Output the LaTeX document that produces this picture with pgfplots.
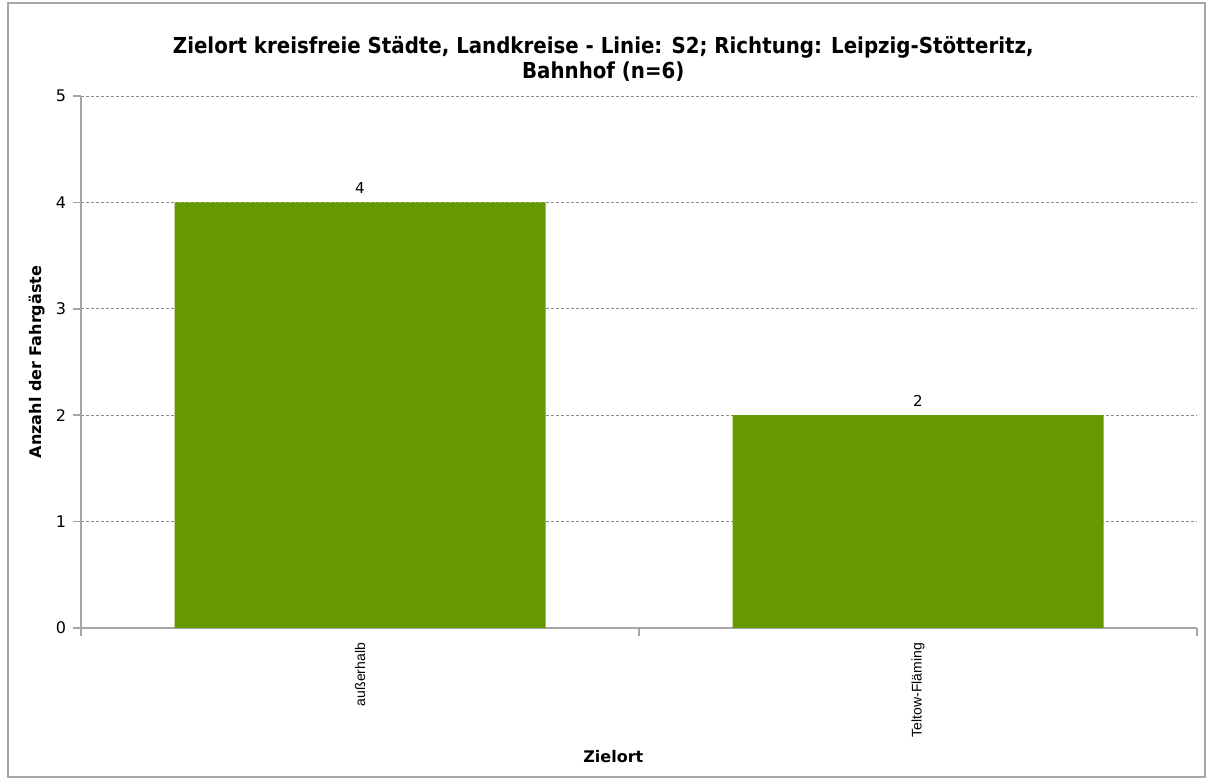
\documentclass[border=0pt]{standalone}
\usepackage{pgfplots}
\pgfplotsset{compat=1.18}
\usepackage{fontspec}
\setmainfont{DejaVu Sans}
\newfontfamily\condfont{DejaVu Sans Condensed}
\newfontfamily\arialfont{Liberation Sans}
\definecolor{bargreen}{HTML}{669900}
\definecolor{axgray}{HTML}{A6A6A6}
\definecolor{gridgray}{HTML}{8C8C8C}
\begin{document}
\begin{tikzpicture}
\begin{axis}[
  scale only axis,
  width=558pt, height=266pt,
  xmin=-0.5, xmax=1.5, ymin=0, ymax=5,
  axis x line*=bottom, axis y line*=left,
  axis line style={axgray, line width=0.8pt},
  xtick={0,1}, xticklabels={außerhalb,Teltow-Fläming},
  major x tick style={draw=none},
  minor xtick={-0.5,0.5,1.5},
  minor x tick style={axgray, line width=0.8pt},
  minor tick length=4pt,
  x tick label style={font=\arialfont\fontsize{7}{8}\selectfont, rotate=90, anchor=east},
  ytick={0,1,2,3,4,5},
  y tick label style={font=\fontsize{8}{9}\selectfont},
  /pgf/number format/assume math mode=true,
  major y tick style={axgray, line width=0.8pt},
  major tick length=4pt,
  tick align=outside,
  ymajorgrids,
  y grid style={gridgray, dash pattern=on 1.5pt off 1pt, line width=0.4pt},
  ylabel={\bfseries Anzahl der Fahrgäste},
  ylabel style={font=\fontsize{8}{9}\selectfont, at={(axis description cs:-0.039,0.5)}, anchor=center},
  xlabel={\bfseries Zielort},
  xlabel style={font=\fontsize{8}{9}\selectfont, at={(axis description cs:0.477,0)}, yshift=-64.5pt, anchor=center},
  title={Zielort kreisfreie Städte, Landkreise - Linie: S2; Richtung: Leipzig-Stötteritz,\\Bahnhof (n=6)},
  title style={font=\condfont\bfseries\fontsize{11}{12.5}\selectfont, align=center, at={(axis description cs:0.468,1)}, anchor=south, yshift=-2pt},
  nodes near coords,
  nodes near coords style={font=\fontsize{7.5}{8}\selectfont, yshift=1pt},
  clip=false,
]
\addplot[ybar, bar width=185.5pt, fill=bargreen, draw=none] coordinates {(0,4) (1,2)};
\end{axis}
\draw[axgray, line width=0.6pt] (-36.5pt,-74.5pt) rectangle (562pt,312.5pt);
\path (-40.5pt,-76pt) rectangle (563.5pt,314pt);
\end{tikzpicture}
\end{document}
